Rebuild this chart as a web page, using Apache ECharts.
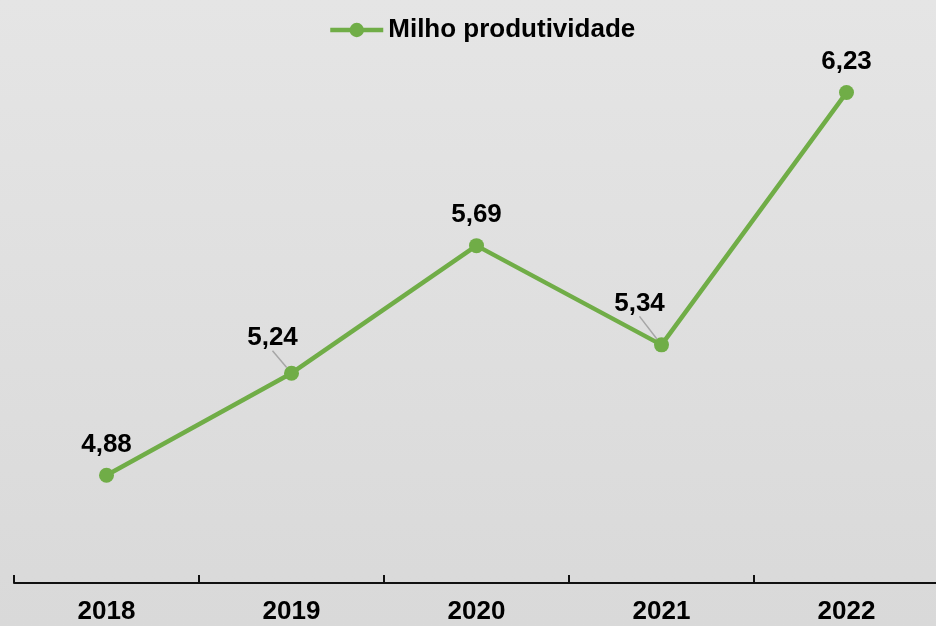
<!DOCTYPE html>
<html>
<head>
<meta charset="utf-8">
<script src="https://cdn.jsdelivr.net/npm/echarts@6/dist/echarts.min.js"></script>
<style>
  html, body { margin: 0; padding: 0; }
  #chart { width: 936px; height: 626px; }
</style>
</head>
<body>
<div id="chart"></div>
<script>
var anos = ['2018', '2019', '2020', '2021', '2022'];
var produtividade = [4.88, 5.24, 5.69, 5.34, 6.23];
var nomeSerie = 'Milho produtividade';

// deslocamento dos rótulos que têm linha de chamada
var rotuloDx = [0, -19, 0, -22, 0];
var rotuloDy = [0, -5, 0, -11, 0];

var verde = '#70ad47';
var fonte = 'Liberation Sans';

var myChart = echarts.init(document.getElementById('chart'));

var dados = produtividade.map(function (v, i) {
    var item = { value: v };
    if (rotuloDx[i] !== 0) {
        item.labelLine = { show: true };
    }
    return item;
});

var option = {
    backgroundColor: {
        type: 'linear', x: 0, y: 0, x2: 0, y2: 1,
        colorStops: [
            { offset: 0, color: '#e5e5e5' },
            { offset: 1, color: '#d9d9d9' }
        ]
    },
    legend: {
        data: [nomeSerie],
        top: 12,
        left: 323,
        itemWidth: 53,
        itemHeight: 18,
        itemGap: 5,
        lineStyle: { width: 4.5 },
        textStyle: { fontFamily: fonte, fontSize: 26, fontWeight: 'bold', color: '#000' }
    },
    grid: { left: 14, width: 925, top: 16, bottom: 43, outerBoundsMode: 'none', containLabel: false },
    xAxis: {
        type: 'category',
        data: anos,
        boundaryGap: true,
        axisLine: { show: true, lineStyle: { color: '#111', width: 2 } },
        axisTick: { show: true, inside: true, length: 8, lineStyle: { color: '#111', width: 2 } },
        axisLabel: { margin: 16, fontFamily: fonte, fontSize: 26, fontWeight: 'bold', color: '#000' }
    },
    yAxis: {
        type: 'value',
        min: 4.5,
        max: 6.5,
        show: false,
        splitLine: { show: false }
    },
    series: [{
        name: nomeSerie,
        type: 'line',
        data: dados,
        symbol: 'circle',
        symbolSize: 15,
        lineStyle: { color: verde, width: 4.5 },
        itemStyle: { color: verde },
        label: {
            show: true,
            position: 'top',
            distance: 10,
            fontFamily: fonte,
            fontSize: 26,
            fontWeight: 'bold',
            color: '#000',
            formatter: function (p) {
                return p.value.toFixed(2).replace('.', ',');
            }
        },
        labelLine: {
            show: false,
            lineStyle: { color: '#a6a6a6', width: 1.5 }
        },
        labelLayout: function (params) {
            return { dx: rotuloDx[params.dataIndex], dy: rotuloDy[params.dataIndex] };
        }
    }]
};

myChart.setOption(option);
</script>
</body>
</html>
